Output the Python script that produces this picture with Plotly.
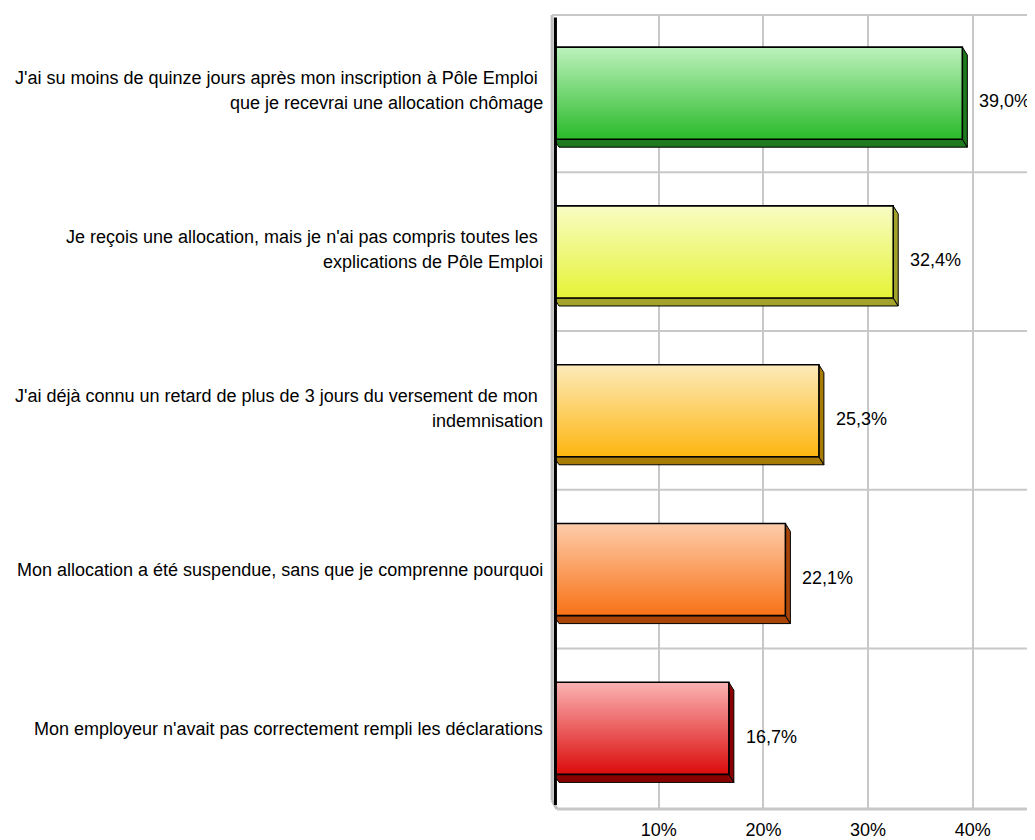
import plotly.graph_objects as go

categories = [
    "J'ai su moins de quinze jours après mon inscription à Pôle Emploi \nque je recevrai une allocation chômage",
    "Je reçois une allocation, mais je n'ai pas compris toutes les \nexplications de Pôle Emploi",
    "J'ai déjà connu un retard de plus de 3 jours du versement de mon \nindemnisation",
    "Mon allocation a été suspendue, sans que je comprenne pourquoi",
    "Mon employeur n'avait pas correctement rempli les déclarations",
]
values = [39.0, 32.4, 25.3, 22.1, 16.7]
tick_vals = [10, 20, 30, 40]
tick_text = ["10%", "20%", "30%", "40%"]

top_colors = ["#bdf2bd", "#f8fcc4", "#fdebbb", "#fdccaa", "#fbb3b3"]
bottom_colors = ["#2aba2a", "#e6f336", "#fdb50f", "#f87216", "#db0b0b"]
depth_colors = ["#1e7a1e", "#a3a32c", "#a87a06", "#a84408", "#8a0000"]

FONT = "Liberation Sans, Arial"
FS = 18
W, H = 1027, 832
L, R, T, B = 546, 0, 7, 31
XMAX = 45.94
n = len(categories)
px_x = (W - L - R) / XMAX          # px per percent
px_y = (H - T - B) / n             # px per category unit
dx = 5 / px_x                      # 3D depth in data units
dy = 8 / px_y
half_top, half_bot = 0.298, 0.282

fig = go.Figure()
annotations = []
shapes = []

# horizontal separators (band boundaries)
for k in range(1, n):
    shapes.append(dict(type="line", xref="paper", yref="y", x0=0, x1=1,
                       y0=k - 0.5 - 0.01, y1=k - 0.5 - 0.01,
                       line=dict(color="#c8c8c8", width=2), layer="below"))
# top border
shapes.append(dict(type="line", xref="paper", yref="paper", x0=-0.004, x1=1, y0=1, y1=1,
                   line=dict(color="#c8c8c8", width=2), layer="below"))
# floor line
shapes.append(dict(type="line", xref="paper", yref="paper", x0=0.006, x1=1, y0=0, y1=0,
                   line=dict(color="#c8c8c8", width=3), layer="below"))
# left wall: grey edge + black face
shapes.append(dict(type="line", xref="paper", yref="paper", x0=-0.004, x1=-0.004, y0=0.011, y1=1,
                   line=dict(color="#c0c0c0", width=3), layer="above"))
shapes.append(dict(type="line", xref="paper", yref="paper", x0=-0.004, x1=0.006, y0=0.011, y1=0,
                   line=dict(color="#c0c0c0", width=3), layer="above"))
shapes.append(dict(type="line", xref="paper", yref="paper", x0=0.003, x1=0.003, y0=0.005, y1=0.997,
                   line=dict(color="#000000", width=3), layer="above"))

for i, (cat, v) in enumerate(zip(categories, values)):
    yt = i - half_top
    yb = i + half_bot
    # bottom depth face
    fig.add_trace(go.Scatter(
        x=[0, v, v + dx, dx, 0], y=[yb, yb, yb + dy, yb + dy, yb],
        fill="toself", fillcolor=depth_colors[i], mode="lines",
        line=dict(color="#000000", width=1), hoverinfo="skip", showlegend=False))
    # right depth face
    fig.add_trace(go.Scatter(
        x=[v, v + dx, v + dx, v, v], y=[yt, yt + dy, yb + dy, yb, yt],
        fill="toself", fillcolor=depth_colors[i], mode="lines",
        line=dict(color="#000000", width=1), hoverinfo="skip", showlegend=False))
    # front face with vertical gradient
    fig.add_trace(go.Scatter(
        x=[0, v, v, 0, 0], y=[yt, yt, yb, yb, yt],
        fill="toself", mode="lines",
        fillgradient=dict(type="vertical", start=yt, stop=yb,
                          colorscale=[[0, top_colors[i]], [1, bottom_colors[i]]]),
        line=dict(color="#000000", width=1.6), hoverinfo="skip", showlegend=False))
    # value label
    annotations.append(dict(x=v, y=i, xref="x", yref="y", xanchor="left", yanchor="middle",
                            xshift=15, yshift=-7, showarrow=False,
                            text=("%.1f" % v).replace(".", ",") + "%",
                            font=dict(family=FONT, size=FS, color="#000000")))
    # category label lines
    lines = cat.split("\n")
    if len(lines) == 2:
        shifts = [16, -9]
    else:
        shifts = [1]
    for line, s in zip(lines, shifts):
        annotations.append(dict(x=0, y=i, xref="paper", yref="y", xanchor="right", yanchor="middle",
                                xshift=-9, yshift=s, showarrow=False, text=line,
                                font=dict(family=FONT, size=FS, color="#000000")))

fig.update_layout(
    width=W, height=H,
    margin=dict(l=L, r=R, t=T, b=B),
    paper_bgcolor="white", plot_bgcolor="white",
    showlegend=False,
    xaxis=dict(range=[0, XMAX], tickvals=tick_vals, ticktext=tick_text,
               showgrid=True, gridcolor="#c8c8c8", gridwidth=2,
               zeroline=False, showline=False, ticks="",
               ticklabelstandoff=8,
               tickfont=dict(family=FONT, size=FS, color="#000000"),
               fixedrange=True),
    yaxis=dict(range=[n - 0.5, -0.5], showticklabels=False, showgrid=False,
               zeroline=False, showline=False, ticks="", fixedrange=True),
    annotations=annotations,
    shapes=shapes,
)

fig.write_html("out.html")
